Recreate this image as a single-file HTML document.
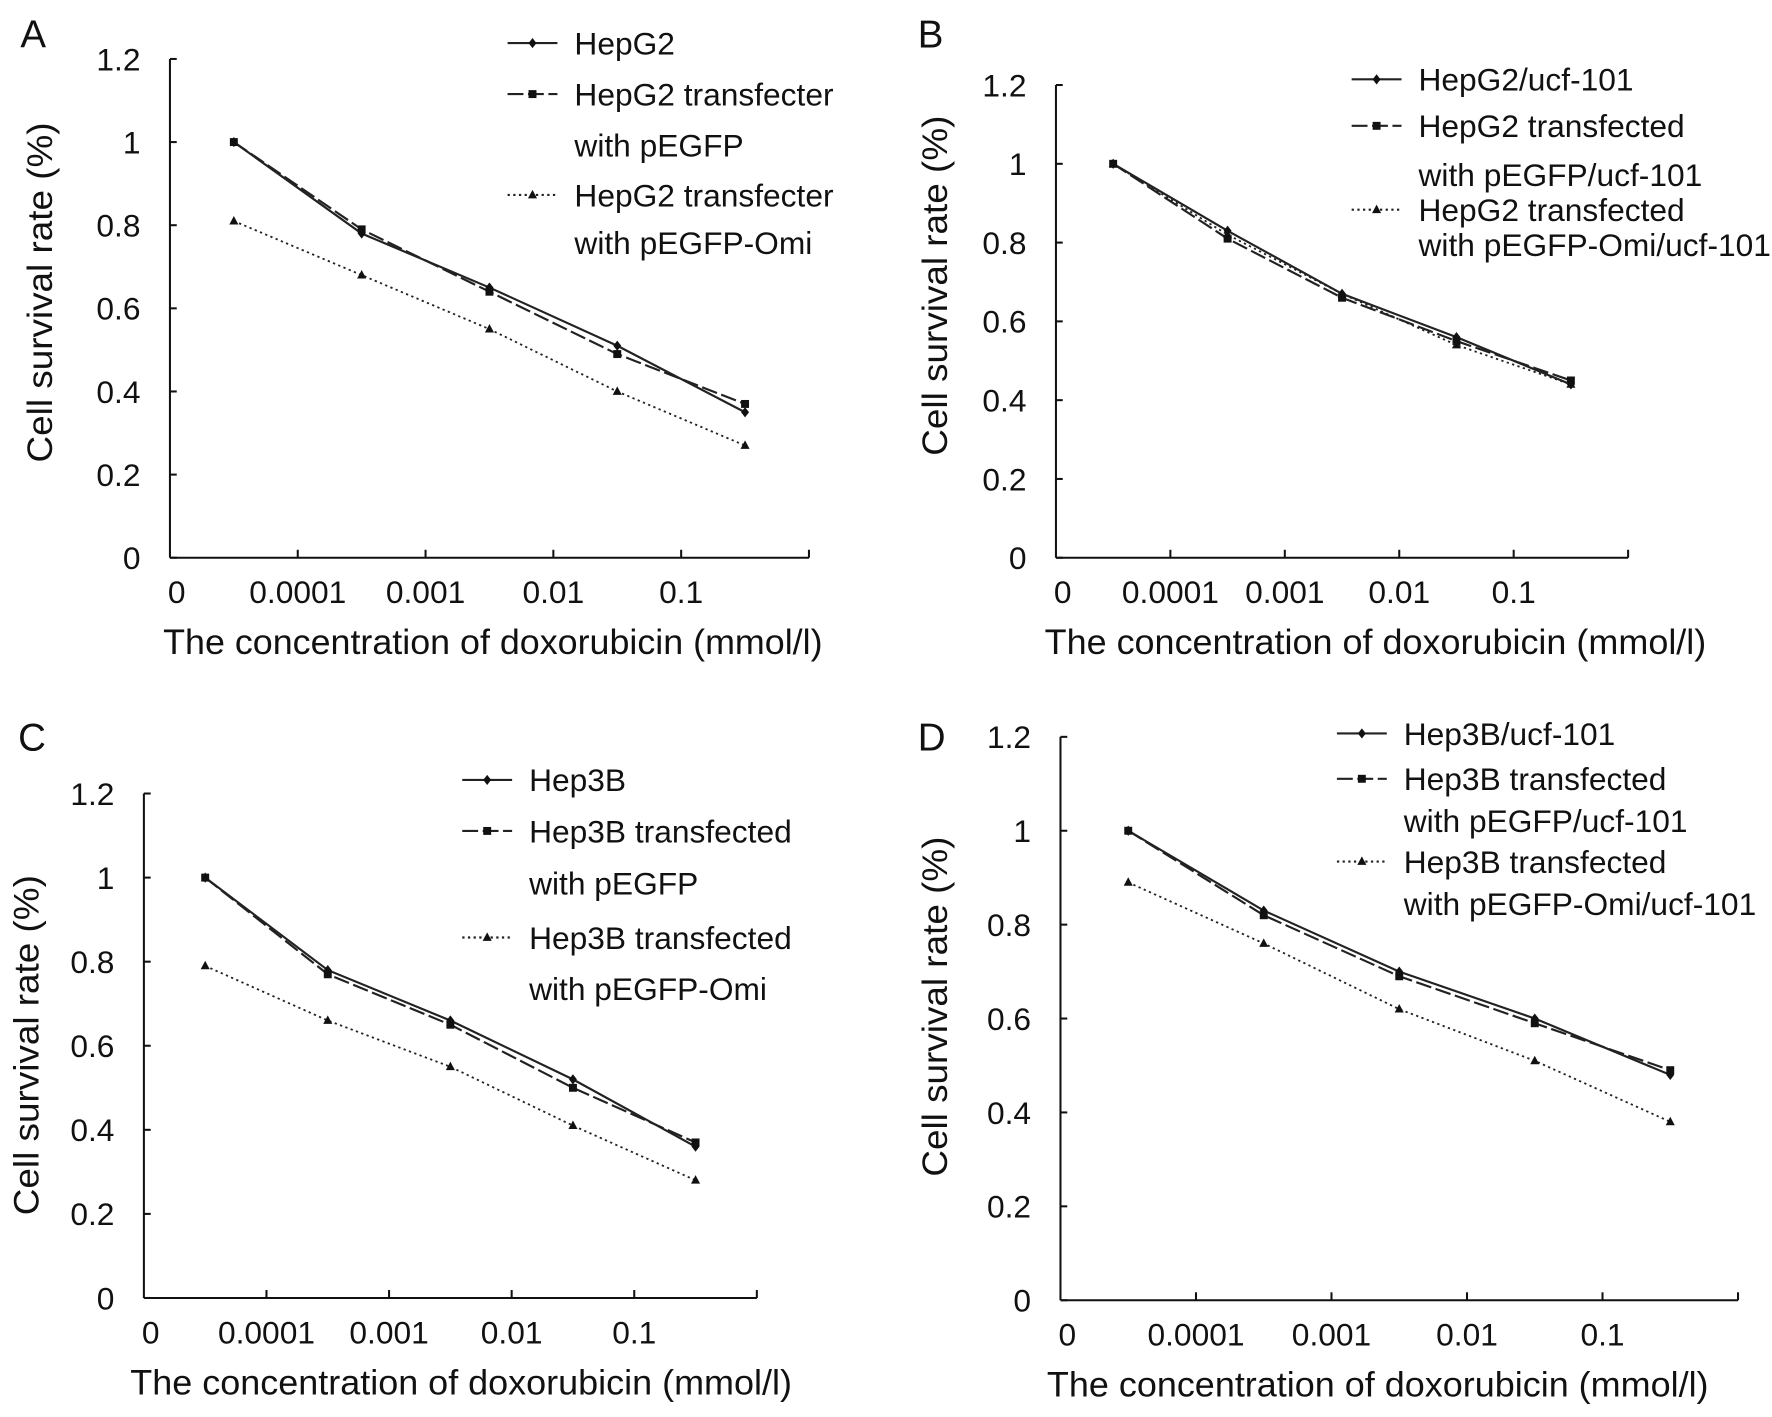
<!DOCTYPE html>
<html><head><meta charset="utf-8"><style>
html,body{margin:0;padding:0;background:#fff;}
svg{display:block;}
text{font-family:"Liberation Sans",sans-serif;fill:#111;}
</style></head><body>
<svg id="fig" width="1772" height="1417" viewBox="0 0 1564 1250" preserveAspectRatio="none" xmlns="http://www.w3.org/2000/svg"></svg>
<script>
// shared data
const categories = ["0","0.0001","0.001","0.01","0.1"];
const yTicks = [0,0.2,0.4,0.6,0.8,1,1.2];
const yTickLabels = ["0","0.2","0.4","0.6","0.8","1","1.2"];

const panelA_s1 = [1.0,0.78,0.65,0.51,0.35];
const panelA_s2 = [1.0,0.79,0.64,0.49,0.37];
const panelA_s3 = [0.81,0.68,0.55,0.40,0.27];
const panelA_legend = [["HepG2"],["HepG2 transfecter","with pEGFP"],["HepG2 transfecter","with pEGFP-Omi"]];

const panelB_s1 = [1.0,0.83,0.67,0.56,0.44];
const panelB_s2 = [1.0,0.81,0.66,0.55,0.45];
const panelB_s3 = [1.0,0.82,0.67,0.54,0.44];
const panelB_legend = [["HepG2/ucf-101"],["HepG2 transfected","with pEGFP/ucf-101"],["HepG2 transfected","with pEGFP-Omi/ucf-101"]];

const panelC_s1 = [1.0,0.78,0.66,0.52,0.36];
const panelC_s2 = [1.0,0.77,0.65,0.50,0.37];
const panelC_s3 = [0.79,0.66,0.55,0.41,0.28];
const panelC_legend = [["Hep3B"],["Hep3B transfected","with pEGFP"],["Hep3B transfected","with pEGFP-Omi"]];

const panelD_s1 = [1.0,0.83,0.70,0.60,0.48];
const panelD_s2 = [1.0,0.82,0.69,0.59,0.49];
const panelD_s3 = [0.89,0.76,0.62,0.51,0.38];
const panelD_legend = [["Hep3B/ucf-101"],["Hep3B transfected","with pEGFP/ucf-101"],["Hep3B transfected","with pEGFP-Omi/ucf-101"]];

const NS="http://www.w3.org/2000/svg";
const svg=document.getElementById('fig');
function el(tag,attrs,parent,txt){const e=document.createElementNS(NS,tag);for(const k in attrs)e.setAttribute(k,attrs[k]);if(txt!==undefined)e.textContent=txt;(parent||svg).appendChild(e);return e;}

const dashes=["","14,4","2,3"];
function marker(g,type,x,y){
  if(type===0){const m=el('polygon',{points:`${x},${y-4.5} ${x+3.5},${y} ${x},${y+4.5} ${x-3.5},${y}`,fill:'#111'},g);}
  else if(type===1){const m=el('rect',{x:x-3.5,y:y-3.5,width:7,height:7,fill:'#111'},g);}
  else {const m=el('polygon',{points:`${x},${y-4.5} ${x+4},${y+3} ${x-4},${y+3}`,fill:'#111'},g);}
}

function panel(p){
  const g=el('g',{});
  
  
  const xs=(i)=>p.x0+(i+0.5)*p.dx;
  const ys=(v)=>p.y0-(v/1.2)*(p.y0-p.ytop);
  const xEnd=p.x0+5*p.dx;
  const L=el('text',{x:p.lx,y:p.ly,'font-size':34},g,p.letter);
  
  const ya=el('line',{x1:p.x0,y1:p.ytop,x2:p.x0,y2:p.y0,stroke:'#111','stroke-width':1.8},g);
  
  const xa=el('line',{x1:p.x0,y1:p.y0,x2:xEnd,y2:p.y0,stroke:'#111','stroke-width':1.8},g);
  
  yTicks.forEach((v,i)=>{
    el('line',{x1:p.x0,y1:ys(v),x2:p.x0+6,y2:ys(v),stroke:'#111','stroke-width':1.8},g);
    const t=el('text',{x:p.x0-26,y:ys(v)+10,'font-size':28,'text-anchor':'end'},g,yTickLabels[i]);
    
  });
  for(let i=1;i<=5;i++){el('line',{x1:p.x0+i*p.dx,y1:p.y0,x2:p.x0+i*p.dx,y2:p.y0-7,stroke:'#111','stroke-width':1.8},g);}
  categories.forEach((c,i)=>{
    const t=el('text',{x:p.x0+i*p.dx+(i===0?6:0),y:p.y0+40,'font-size':28,'text-anchor':'middle'},g,c);
    
  });
  const xt=el('text',{x:p.x0+p.xtOff,y:p.y0+85,'font-size':31,textLength:p.xtLen,lengthAdjust:'spacingAndGlyphs'},g,'The concentration of doxorubicin (mmol/l)');
  
  const yt=el('text',{x:0,y:0,'font-size':31,'text-anchor':'middle',textLength:300,lengthAdjust:'spacingAndGlyphs',transform:`translate(${p.ytx},${p.yty}) rotate(-90)`},g,'Cell survival rate (%)');
  
  p.series.forEach((s,k)=>{
    const sg=el('g',{},g);
    
    const pts=s.map((v,i)=>xs(i)+','+ys(v)).join(' ');
    const a={points:pts,fill:'none',stroke:'#222','stroke-width':k===2?1.6:1.9};
    if(dashes[k])a['stroke-dasharray']=dashes[k];
    el('polyline',a,sg);
    s.forEach((v,i)=>marker(sg,k,xs(i),ys(v)));
  });
  const lg=el('g',{},g);
  
  p.legend.forEach((lines,k)=>{
    const y=p.legY[k];
    const a={x1:p.legX,y1:y,x2:p.legX+44,y2:y,stroke:'#222','stroke-width':1.9};
    if(dashes[k])a['stroke-dasharray']=dashes[k];
    el('line',a,lg);
    marker(lg,k,p.legX+22,y);
    lines.forEach((ln,j)=>{
      const t=el('text',{x:p.legX+59,y:p.legTextY[k][j]+10,'font-size':28},lg,ln);
      
    });
  });
  return g;
}

panel({letter:'A',lx:18,ly:42,x0:150,dx:112.8,y0:492,ytop:52,xtOff:-6,xtLen:582,ytx:46,yty:258,
  series:[panelA_s1,panelA_s2,panelA_s3],legend:panelA_legend,legX:448,legY:[38,83,172],legTextY:[[38],[83,128],[172,214]]});
panel({letter:'B',lx:810,ly:42,x0:932,dx:101,y0:492,ytop:75,xtOff:-10,xtLen:584,ytx:836,yty:252,
  series:[panelB_s1,panelB_s2,panelB_s3],legend:panelB_legend,legX:1193,legY:[70,111,185],legTextY:[[70],[111,154],[185,216]]});
panel({letter:'C',lx:16,ly:662,x0:127,dx:108.2,y0:1145,ytop:700,xtOff:-12,xtLen:584,ytx:34,yty:922,
  series:[panelC_s1,panelC_s2,panelC_s3],legend:panelC_legend,legX:408,legY:[688,733,827],legTextY:[[688],[733,779],[827,872]]});
panel({letter:'D',lx:810,ly:662,x0:936,dx:119.6,y0:1147,ytop:650,xtOff:-12,xtLen:584,ytx:836,yty:888,
  series:[panelD_s1,panelD_s2,panelD_s3],legend:panelD_legend,legX:1180,legY:[647,687,760],legTextY:[[647],[687,724],[760,797]]});
</script>
</body></html>
